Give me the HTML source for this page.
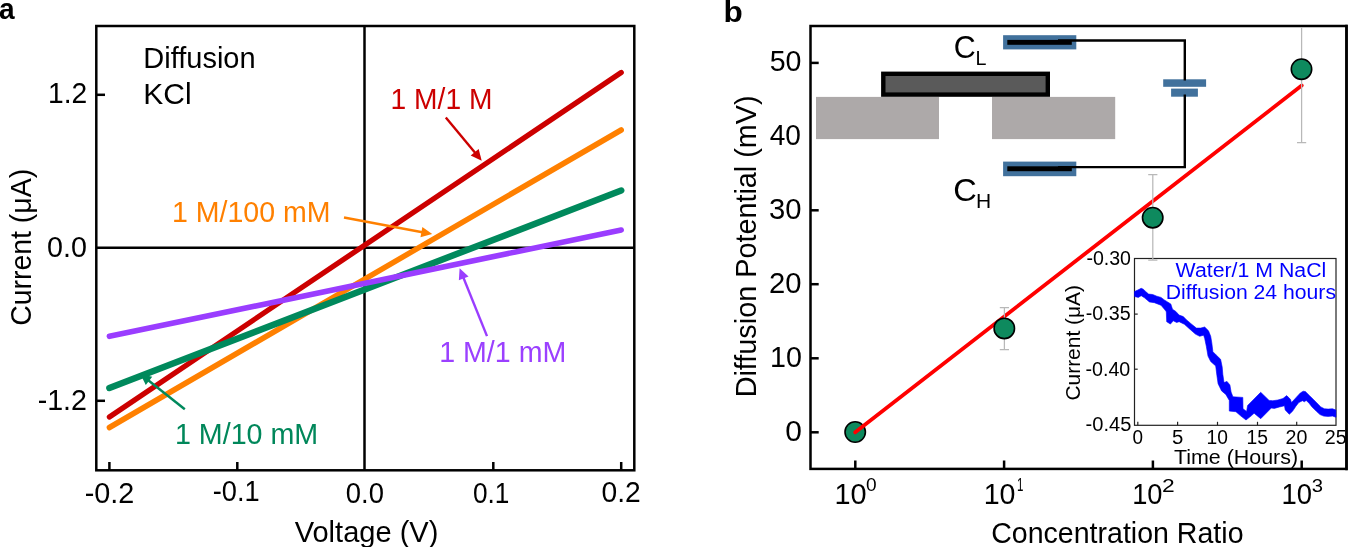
<!DOCTYPE html>
<html><head><meta charset="utf-8"><style>
html,body{margin:0;padding:0;background:#fff;}
svg{display:block;will-change:transform;}
text{font-family:"Liberation Sans",sans-serif;}
</style></head><body>
<svg width="1348" height="547" viewBox="0 0 1348 547">
<rect width="1348" height="547" fill="#fff"/>
<!-- PANEL A axes -->
<g stroke="#000" stroke-width="2.5" fill="none">
  <rect x="96.3" y="26" width="538" height="444.3"/>
  <line x1="364.5" y1="26" x2="364.5" y2="470.3"/>
  <line x1="96" y1="247.8" x2="634" y2="247.8"/>
  <line x1="96" y1="94.8" x2="105" y2="94.8"/>
  <line x1="96" y1="400.8" x2="105" y2="400.8"/>
  <line x1="109.4" y1="470.3" x2="109.4" y2="462"/>
  <line x1="237.3" y1="470.3" x2="237.3" y2="462"/>
  <line x1="493.3" y1="470.3" x2="493.3" y2="462"/>
  <line x1="621.2" y1="470.3" x2="621.2" y2="462"/>
</g>
<g stroke-linecap="round" fill="none">
  <line x1="109.4" y1="417" x2="621.2" y2="72.5" stroke="#CC0000" stroke-width="5.3"/>
  <line x1="109.4" y1="427.5" x2="621.2" y2="130" stroke="#FF8000" stroke-width="5.5"/>
  <line x1="109.4" y1="388" x2="621.2" y2="190.5" stroke="#00895C" stroke-width="6.5"/>
  <line x1="109.4" y1="336.3" x2="621.2" y2="230" stroke="#9A3DFF" stroke-width="5.6"/>
</g>
<line x1="445.80" y1="117.50" x2="475.31" y2="153.01" stroke="#CC0000" stroke-width="2.4"/>
<path d="M481.70,160.70 L470.67,155.56 L478.67,148.92 Z" fill="#CC0000"/>
<line x1="344.00" y1="217.50" x2="422.37" y2="232.25" stroke="#FF8000" stroke-width="2.4"/>
<path d="M432.20,234.10 L420.43,237.18 L422.35,226.96 Z" fill="#FF8000"/>
<line x1="487.00" y1="336.10" x2="463.34" y2="277.47" stroke="#9A3DFF" stroke-width="2.4"/>
<path d="M459.60,268.20 L468.54,276.45 L458.89,280.35 Z" fill="#9A3DFF"/>
<line x1="184.80" y1="409.30" x2="148.23" y2="380.22" stroke="#00895C" stroke-width="2.4"/>
<path d="M140.40,374.00 L152.25,376.78 L145.77,384.92 Z" fill="#00895C"/>
<!-- PANEL B axes -->
<g stroke="#000" stroke-width="2.5" fill="none">
  <rect x="810.5" y="26" width="536" height="442.9"/>
  <line x1="810.5" y1="62.9" x2="818.7" y2="62.9"/>
  <line x1="810.5" y1="210.3" x2="818.7" y2="210.3"/>
  <line x1="810.5" y1="284.2" x2="818.7" y2="284.2"/>
  <line x1="810.5" y1="358.3" x2="818.7" y2="358.3"/>
  <line x1="810.5" y1="432.3" x2="818.7" y2="432.3"/>
  <line x1="855.3" y1="468.9" x2="855.3" y2="460.5"/>
  <line x1="1004.1" y1="468.9" x2="1004.1" y2="460.5"/>
  <line x1="1152.9" y1="468.9" x2="1152.9" y2="460.5"/>
  <line x1="1301.7" y1="468.9" x2="1301.7" y2="460.5"/>
</g>
<!-- schematic -->
<rect x="816" y="96.9" width="123" height="42.2" fill="#ADA9A9"/>
<rect x="992" y="96.9" width="123.2" height="42.2" fill="#ADA9A9"/>
<rect x="883.3" y="73.8" width="164.5" height="20.8" fill="#5A5A5A" stroke="#000" stroke-width="4.4"/>
<rect x="1003.1" y="35.2" width="73.2" height="14.2" fill="#41719C"/>
<rect x="1007.3" y="39.9" width="64.5" height="4.9" fill="#000"/>
<rect x="1003.1" y="161.6" width="73.2" height="14.6" fill="#41719C"/>
<rect x="1007.3" y="166.3" width="64.5" height="4.9" fill="#000"/>
<rect x="1163.2" y="79.3" width="42.9" height="7.5" fill="#41719C"/>
<rect x="1171.1" y="88.6" width="26.8" height="8.1" fill="#41719C"/>
<path d="M1058,40.5 H1184.8 V80.6 M1184.8,94.6 V167.1 H1058" stroke="#000" stroke-width="2.4" fill="none"/>
<!-- inset -->
<rect x="1134.5" y="258.5" width="201.5" height="166.8" fill="#fff" stroke="#222" stroke-width="1.2"/>
<g stroke="#222" stroke-width="1.2">
  <line x1="1134.5" y1="314.1" x2="1137.7" y2="314.1"/>
  <line x1="1134.5" y1="369.2" x2="1137.7" y2="369.2"/>
  <line x1="1137.8" y1="425.3" x2="1137.8" y2="421.8"/>
  <line x1="1177.6" y1="425.3" x2="1177.6" y2="421.8"/>
  <line x1="1217.5" y1="425.3" x2="1217.5" y2="421.8"/>
  <line x1="1257.5" y1="425.3" x2="1257.5" y2="421.8"/>
  <line x1="1296.7" y1="425.3" x2="1296.7" y2="421.8"/>
</g>
<path fill="#0000FF" stroke="#0000FF" stroke-width="0.6" stroke-linejoin="round" d="M1134.5,291.5 L1137.9,290.0 L1141.2,288.3 L1143.3,289.2 L1145.3,291.2 L1148.6,294.1 L1152.7,294.5 L1156.8,296.2 L1161.0,297.4 L1164.3,299.9 L1167.5,301.9 L1170.8,304.0 L1172.5,309.3 L1175.8,311.4 L1179.1,315.1 L1183.3,316.6 L1186.6,319.9 L1191.0,323.7 L1196.4,328.1 L1200.8,328.1 L1204.7,327.0 L1208.5,330.8 L1210.7,336.3 L1211.8,342.9 L1212.9,351.7 L1216.2,355.0 L1220.6,359.3 L1222.2,367.1 L1222.8,374.3 L1224.0,382.6 L1227.0,381.4 L1229.9,384.9 L1231.1,392.1 L1232.9,396.8 L1242.8,397.4 L1243.0,408.7 L1246.6,411.5 L1247.6,405.5 L1260.7,392.3 L1269.1,400.4 L1272.8,400.7 L1277.9,400.0 L1283.0,398.5 L1286.7,395.6 L1290.4,399.3 L1291.5,402.6 L1296.2,397.4 L1300.3,393.0 L1303.2,391.2 L1305.4,391.6 L1309.1,395.2 L1313.5,399.6 L1317.9,404.0 L1320.8,406.9 L1324.4,408.8 L1328.1,409.1 L1332.5,408.8 L1335.9,410.0 L1335.9,417.2 L1332.5,416.1 L1328.1,416.4 L1323.7,416.1 L1320.0,414.6 L1316.4,411.3 L1312.0,406.9 L1309.1,403.3 L1306.2,400.4 L1304.3,401.8 L1302.5,400.7 L1298.8,402.5 L1295.9,406.2 L1293.0,410.6 L1292.5,411.3 L1289.3,414.3 L1285.2,409.9 L1284.5,405.8 L1279.4,407.0 L1274.3,408.4 L1271.3,408.0 L1260.7,418.7 L1254.1,413.2 L1251.3,415.8 L1246.0,420.0 L1240.6,415.8 L1235.9,411.7 L1229.3,411.1 L1229.3,400.4 L1225.8,394.4 L1221.6,390.9 L1218.1,383.8 L1216.9,375.4 L1215.7,365.9 L1210.7,361.5 L1208.0,356.1 L1206.3,346.2 L1204.7,338.5 L1203.6,335.2 L1199.7,336.3 L1195.4,334.1 L1189.9,329.2 L1184.4,324.3 L1179.1,321.7 L1176.6,322.5 L1173.3,320.8 L1170.4,324.1 L1166.7,321.7 L1166.3,311.8 L1165.1,310.1 L1161.0,305.2 L1157.7,304.0 L1154.4,302.7 L1149.4,301.9 L1144.5,297.8 L1141.2,295.7 L1138.3,297.4 L1134.5,296.5 Z"/>
<!-- fit & points -->
<circle cx="855.2" cy="432" r="10.2" fill="#0E8A5E" stroke="#000" stroke-width="1.6"/>
<line x1="855.2" y1="432.3" x2="1301.7" y2="85.5" stroke="#FF0000" stroke-width="3.8" stroke-linecap="round"/>
<g stroke="#B8B8B8" stroke-width="1.25" fill="none">
  <path d="M1004.4,307.5 V349.5 M999.8,307.5 H1009 M999.8,349.5 H1009"/>
  <path d="M1152.8,174.5 V260 M1148.2,174.5 H1157.4 M1148.2,260 H1157.4"/>
  <path d="M1301.6,27 V142.5 M1297,142.5 H1306.2"/>
</g>
<g fill="#0E8A5E" stroke="#000" stroke-width="1.6">
  <circle cx="1004.3" cy="328.4" r="10.2"/>
  <circle cx="1152.7" cy="217.7" r="10.2"/>
  <circle cx="1301.5" cy="69.2" r="10.2"/>
</g>
<text x="-1.00" y="18.60" style="font-size:29.00px;font-weight:bold" fill="#000" textLength="15.63" lengthAdjust="spacingAndGlyphs">a</text>
<text x="48.00" y="103.00" style="font-size:29.00px" fill="#000" textLength="39.24" lengthAdjust="spacingAndGlyphs">1.2</text>
<text x="47.10" y="257.00" style="font-size:29.00px" fill="#000" textLength="39.87" lengthAdjust="spacingAndGlyphs">0.0</text>
<text x="37.70" y="409.60" style="font-size:29.00px" fill="#000" textLength="49.29" lengthAdjust="spacingAndGlyphs">-1.2</text>
<text x="84.70" y="502.60" style="font-size:29.00px" fill="#000" textLength="49.61" lengthAdjust="spacingAndGlyphs">-0.2</text>
<text x="212.70" y="501.40" style="font-size:29.00px" fill="#000" textLength="46.91" lengthAdjust="spacingAndGlyphs">-0.1</text>
<text x="345.80" y="502.60" style="font-size:29.00px" fill="#000" textLength="38.10" lengthAdjust="spacingAndGlyphs">0.0</text>
<text x="473.00" y="502.50" style="font-size:29.00px" fill="#000" textLength="36.42" lengthAdjust="spacingAndGlyphs">0.1</text>
<text x="601.50" y="502.00" style="font-size:29.00px" fill="#000" textLength="39.23" lengthAdjust="spacingAndGlyphs">0.2</text>
<text x="294.70" y="541.60" style="font-size:29.00px" fill="#000" textLength="143.70" lengthAdjust="spacingAndGlyphs">Voltage (V)</text>
<text transform="translate(31.00,247.35) rotate(-90)" text-anchor="middle" style="font-size:29.00px" fill="#000" textLength="156.98" lengthAdjust="spacingAndGlyphs">Current (μA)</text>
<text x="143.30" y="67.70" style="font-size:29.00px" fill="#000" textLength="112.35" lengthAdjust="spacingAndGlyphs">Diffusion</text>
<text x="143.30" y="104.00" style="font-size:29.00px" fill="#000" textLength="48.32" lengthAdjust="spacingAndGlyphs">KCl</text>
<text x="390.60" y="109.30" style="font-size:29.00px" fill="#CC0000" textLength="101.83" lengthAdjust="spacingAndGlyphs">1 M/1 M</text>
<text x="172.00" y="222.20" style="font-size:29.00px" fill="#FF8000" textLength="158.52" lengthAdjust="spacingAndGlyphs">1 M/100 mM</text>
<text x="439.20" y="362.00" style="font-size:29.00px" fill="#9B40FF" textLength="127.07" lengthAdjust="spacingAndGlyphs">1 M/1 mM</text>
<text x="174.90" y="443.60" style="font-size:29.00px" fill="#00875A" textLength="143.32" lengthAdjust="spacingAndGlyphs">1 M/10 mM</text>
<text x="723.50" y="21.70" style="font-size:29.00px;font-weight:bold" fill="#000" textLength="19.24" lengthAdjust="spacingAndGlyphs">b</text>
<text x="769.70" y="71.20" style="font-size:29.00px" fill="#000" textLength="31.76" lengthAdjust="spacingAndGlyphs">50</text>
<text x="769.70" y="145.00" style="font-size:29.00px" fill="#000" textLength="31.23" lengthAdjust="spacingAndGlyphs">40</text>
<text x="769.10" y="219.00" style="font-size:29.00px" fill="#000" textLength="32.50" lengthAdjust="spacingAndGlyphs">30</text>
<text x="769.10" y="293.20" style="font-size:29.00px" fill="#000" textLength="32.50" lengthAdjust="spacingAndGlyphs">20</text>
<text x="770.00" y="367.40" style="font-size:29.00px" fill="#000" textLength="31.87" lengthAdjust="spacingAndGlyphs">10</text>
<text x="785.30" y="440.60" style="font-size:29.00px" fill="#000" textLength="16.64" lengthAdjust="spacingAndGlyphs">0</text>
<text x="834.50" y="504.20" style="font-size:29.00px" fill="#000" textLength="32.14" lengthAdjust="spacingAndGlyphs">10</text>
<text x="866.10" y="490.80" style="font-size:19.00px" fill="#000" textLength="10.63" lengthAdjust="spacingAndGlyphs">0</text>
<text x="983.70" y="504.20" style="font-size:29.00px" fill="#000" textLength="31.81" lengthAdjust="spacingAndGlyphs">10</text>
<text x="1017.10" y="491.00" style="font-size:19.00px" fill="#000" textLength="6.43" lengthAdjust="spacingAndGlyphs">1</text>
<text x="1132.20" y="504.20" style="font-size:29.00px" fill="#000" textLength="30.32" lengthAdjust="spacingAndGlyphs">10</text>
<text x="1161.90" y="492.00" style="font-size:19.00px" fill="#000" textLength="12.69" lengthAdjust="spacingAndGlyphs">2</text>
<text x="1281.60" y="504.20" style="font-size:29.00px" fill="#000" textLength="30.53" lengthAdjust="spacingAndGlyphs">10</text>
<text x="1311.80" y="492.00" style="font-size:19.00px" fill="#000" textLength="11.27" lengthAdjust="spacingAndGlyphs">3</text>
<text x="991.20" y="543.30" style="font-size:29.00px" fill="#000" textLength="252.33" lengthAdjust="spacingAndGlyphs">Concentration Ratio</text>
<text transform="translate(756.40,246.35) rotate(-90)" text-anchor="middle" style="font-size:29.00px" fill="#000" textLength="301.98" lengthAdjust="spacingAndGlyphs">Diffusion Potential (mV)</text>
<text x="953.70" y="58.30" style="font-size:32.00px" fill="#000" textLength="21.98" lengthAdjust="spacingAndGlyphs">C</text>
<text x="975.60" y="64.80" style="font-size:21.00px" fill="#000" textLength="10.97" lengthAdjust="spacingAndGlyphs">L</text>
<text x="953.30" y="201.10" style="font-size:32.00px" fill="#000" textLength="23.54" lengthAdjust="spacingAndGlyphs">C</text>
<text x="976.10" y="208.20" style="font-size:21.00px" fill="#000" textLength="15.18" lengthAdjust="spacingAndGlyphs">H</text>
<text x="1086.40" y="264.60" style="font-size:19.30px" fill="#000" textLength="44.61" lengthAdjust="spacingAndGlyphs">-0.30</text>
<text x="1085.70" y="320.00" style="font-size:19.30px" fill="#000" textLength="44.93" lengthAdjust="spacingAndGlyphs">-0.35</text>
<text x="1085.50" y="375.80" style="font-size:19.30px" fill="#000" textLength="44.81" lengthAdjust="spacingAndGlyphs">-0.40</text>
<text x="1085.50" y="431.00" style="font-size:19.30px" fill="#000" textLength="45.85" lengthAdjust="spacingAndGlyphs">-0.45</text>
<text x="1132.60" y="444.00" style="font-size:19.30px" fill="#000" textLength="10.54" lengthAdjust="spacingAndGlyphs">0</text>
<text x="1172.00" y="444.00" style="font-size:19.30px" fill="#000" textLength="11.32" lengthAdjust="spacingAndGlyphs">5</text>
<text x="1206.60" y="444.00" style="font-size:19.30px" fill="#000" textLength="21.39" lengthAdjust="spacingAndGlyphs">10</text>
<text x="1246.40" y="444.30" style="font-size:19.30px" fill="#000" textLength="21.48" lengthAdjust="spacingAndGlyphs">15</text>
<text x="1285.50" y="444.30" style="font-size:19.30px" fill="#000" textLength="21.85" lengthAdjust="spacingAndGlyphs">20</text>
<text x="1324.70" y="444.30" style="font-size:19.30px" fill="#000" textLength="21.96" lengthAdjust="spacingAndGlyphs">25</text>
<text x="1173.90" y="463.90" style="font-size:19.30px" fill="#000" textLength="124.17" lengthAdjust="spacingAndGlyphs">Time (Hours)</text>
<text transform="translate(1080.00,342.80) rotate(-90)" text-anchor="middle" style="font-size:19.30px" fill="#000" textLength="115.50" lengthAdjust="spacingAndGlyphs">Current (μA)</text>
<text x="1175.60" y="277.40" style="font-size:19.50px" fill="#0000FF" textLength="150.67" lengthAdjust="spacingAndGlyphs">Water/1 M NaCl</text>
<text x="1165.70" y="299.40" style="font-size:19.50px" fill="#0000FF" textLength="170.29" lengthAdjust="spacingAndGlyphs">Diffusion 24 hours</text>
<line x1="1346.5" y1="24.75" x2="1346.5" y2="470.15" stroke="#000" stroke-width="2.5"/>
</svg>
</body></html>
